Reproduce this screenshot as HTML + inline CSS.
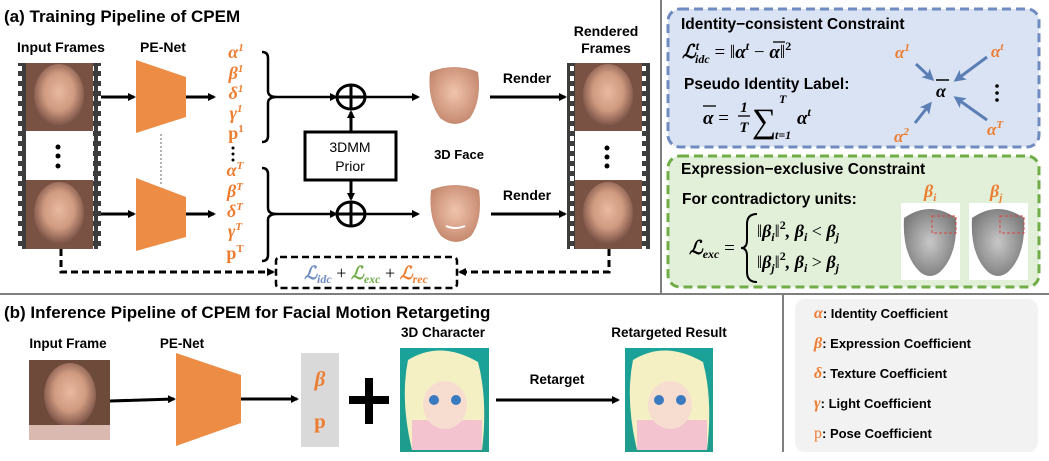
<!DOCTYPE html>
<html><head><meta charset="utf-8"><style>
html,body{margin:0;padding:0;background:#fff;}
svg{display:block;}
.t{font-family:"Liberation Sans",sans-serif;font-weight:bold;fill:#000;}
.m{font-family:"Liberation Serif",serif;font-style:italic;font-weight:bold;}
.o{fill:#ed7d31;}
</style></head><body>
<svg width="1049" height="461" viewBox="0 0 1049 461" xmlns="http://www.w3.org/2000/svg">
<defs>
<marker id="ah" markerWidth="8" markerHeight="8" refX="6" refY="4" orient="auto" markerUnits="userSpaceOnUse"><path d="M0,0 L8,4 L0,8 Z" fill="#000"/></marker>
<marker id="ab" markerWidth="12" markerHeight="12" refX="9" refY="6" orient="auto" markerUnits="userSpaceOnUse"><path d="M0,0 L12,6 L0,12 L3,6 Z" fill="#5b7fb5"/></marker>
<pattern id="holes" x="0" y="63" width="8" height="10" patternUnits="userSpaceOnUse"><rect width="8" height="10" fill="#3d3d3d"/><rect x="2" y="3" width="4" height="5" fill="#fff"/></pattern>
<radialGradient id="face" cx="50%" cy="45%" r="55%"><stop offset="0" stop-color="#e8b9a0"/><stop offset="0.55" stop-color="#cf9a80"/><stop offset="1" stop-color="#7a5246"/></radialGradient>
<radialGradient id="face3" cx="50%" cy="45%" r="55%"><stop offset="0" stop-color="#f0c4ac"/><stop offset="1" stop-color="#c68a70"/></radialGradient>
<radialGradient id="gface" cx="50%" cy="50%" r="55%"><stop offset="0" stop-color="#c8c8c8"/><stop offset="1" stop-color="#7d7d7d"/></radialGradient>
<linearGradient id="teal" x1="0" y1="0" x2="0" y2="1"><stop offset="0" stop-color="#1aa39a"/><stop offset="1" stop-color="#1f9c8c"/></linearGradient>
</defs>

<line x1="661" y1="0" x2="661" y2="294" stroke="#7f7f7f" stroke-width="2"/>
<line x1="0" y1="294" x2="1049" y2="294" stroke="#7f7f7f" stroke-width="2"/>
<line x1="783" y1="294" x2="783" y2="452" stroke="#7f7f7f" stroke-width="2"/>

<text class="t" x="4" y="22" font-size="17">(a) Training Pipeline of CPEM</text>
<text class="t" x="61" y="52" font-size="14" text-anchor="middle">Input Frames</text>
<text class="t" x="163" y="52" font-size="14" text-anchor="middle">PE-Net</text>
<text class="t" x="606" y="36" font-size="14" text-anchor="middle">Rendered</text>
<text class="t" x="606" y="53" font-size="14" text-anchor="middle">Frames</text>

<rect x="18" y="63" width="8" height="186" fill="url(#holes)"/>
<rect x="93" y="63" width="8" height="186" fill="url(#holes)"/>
<rect x="26" y="63" width="67" height="68" fill="#7a5244"/>
<ellipse cx="59" cy="95" rx="25" ry="31" fill="url(#face)"/>
<rect x="26" y="131" width="67" height="49" fill="#fff"/>
<circle cx="58" cy="147" r="2.5"/><circle cx="58" cy="156" r="2.5"/><circle cx="58" cy="166" r="2.5"/>
<rect x="26" y="180" width="67" height="69" fill="#7a5244"/>
<ellipse cx="59" cy="213" rx="25" ry="31" fill="url(#face)"/>

<rect x="567" y="63" width="8" height="186" fill="url(#holes)"/>
<rect x="642" y="63" width="8" height="186" fill="url(#holes)"/>
<rect x="575" y="63" width="67" height="68" fill="#7a5244"/>
<ellipse cx="608" cy="95" rx="25" ry="31" fill="url(#face)"/>
<rect x="575" y="131" width="67" height="49" fill="#fff"/>
<circle cx="607" cy="148" r="2.5"/><circle cx="607" cy="157" r="2.5"/><circle cx="607" cy="166" r="2.5"/>
<rect x="575" y="180" width="67" height="69" fill="#7a5244"/>
<ellipse cx="608" cy="213" rx="25" ry="31" fill="url(#face)"/>

<line x1="101" y1="97" x2="134" y2="97" stroke="#000" stroke-width="3" marker-end="url(#ah)"/>
<line x1="101" y1="214" x2="134" y2="214" stroke="#000" stroke-width="3" marker-end="url(#ah)"/>
<polygon points="136,60 186,77 186,117 136,133" fill="#ed8c45"/>
<polygon points="136,178 186,197 186,237 136,251" fill="#ed8c45"/>
<line x1="161" y1="134" x2="161" y2="184" stroke="#999" stroke-width="1.5" stroke-dasharray="2,2"/>
<line x1="186" y1="97" x2="214" y2="97" stroke="#000" stroke-width="3" marker-end="url(#ah)"/>
<line x1="186" y1="214" x2="214" y2="214" stroke="#000" stroke-width="3" marker-end="url(#ah)"/>

<g class="m o" font-size="18" text-anchor="middle">
<text x="236" y="58">α<tspan font-size="11" dy="-7">1</tspan></text>
<text x="236" y="79">β<tspan font-size="11" dy="-7">1</tspan></text>
<text x="236" y="99">δ<tspan font-size="11" dy="-7">1</tspan></text>
<text x="236" y="119">γ<tspan font-size="11" dy="-7">1</tspan></text>
<text x="236" y="139" font-style="normal">p<tspan font-size="11" dy="-7">1</tspan></text>
<text x="235" y="176">α<tspan font-size="11" dy="-7">T</tspan></text>
<text x="235" y="197">β<tspan font-size="11" dy="-7">T</tspan></text>
<text x="235" y="217">δ<tspan font-size="11" dy="-7">T</tspan></text>
<text x="235" y="237">γ<tspan font-size="11" dy="-7">T</tspan></text>
<text x="235" y="259" font-style="normal">p<tspan font-size="11" dy="-7">T</tspan></text>
</g>
<circle cx="233" cy="148" r="1.5"/><circle cx="233" cy="154" r="1.5"/><circle cx="233" cy="160" r="1.5"/>
<path d="M262,52 Q268,52 268,58 L268,91 Q268,97 277,97 Q268,97 268,103 L268,136 Q268,142 262,142" fill="none" stroke="#000" stroke-width="2.5"/>
<path d="M262,168 Q268,168 268,174 L268,208 Q268,214 277,214 Q268,214 268,220 L268,255 Q268,261 262,261" fill="none" stroke="#000" stroke-width="2.5"/>
<line x1="277" y1="97" x2="336" y2="97" stroke="#000" stroke-width="2.5" marker-end="url(#ah)"/>
<line x1="277" y1="214" x2="336" y2="214" stroke="#000" stroke-width="2.5" marker-end="url(#ah)"/>
<g fill="none" stroke="#000" stroke-width="3">
<ellipse cx="351" cy="97" rx="14" ry="12"/><line x1="337" y1="97" x2="365" y2="97"/><line x1="351" y1="85" x2="351" y2="109"/>
<ellipse cx="351" cy="214" rx="14" ry="12"/><line x1="337" y1="214" x2="365" y2="214"/><line x1="351" y1="202" x2="351" y2="226"/>
</g>
<rect x="305" y="132" width="91" height="48" fill="#fff" stroke="#000" stroke-width="3"/>
<text class="t" x="350" y="152" font-size="14" text-anchor="middle" style="font-weight:normal">3DMM</text>
<text class="t" x="350" y="171" font-size="14" text-anchor="middle" style="font-weight:normal">Prior</text>
<line x1="351" y1="132" x2="351" y2="112" stroke="#000" stroke-width="3" marker-end="url(#ah)"/>
<line x1="351" y1="180" x2="351" y2="199" stroke="#000" stroke-width="3" marker-end="url(#ah)"/>
<line x1="365" y1="97" x2="418" y2="97" stroke="#000" stroke-width="2.5" marker-end="url(#ah)"/>
<line x1="365" y1="214" x2="418" y2="214" stroke="#000" stroke-width="2.5" marker-end="url(#ah)"/>
<path d="M430,72 Q454,62 478,72 Q482,100 470,118 Q455,130 440,118 Q427,100 430,72Z" fill="url(#face3)"/>
<path d="M431,190 Q455,180 479,190 Q483,220 471,236 Q456,248 441,236 Q428,220 431,190Z" fill="url(#face3)"/>
<path d="M446,226 Q455,230 465,226" stroke="#fff" stroke-width="2" fill="none"/>
<text class="t" x="459" y="159" font-size="13" text-anchor="middle">3D Face</text>
<text class="t" x="527" y="83" font-size="14" text-anchor="middle">Render</text>
<text class="t" x="527" y="200" font-size="14" text-anchor="middle">Render</text>
<line x1="490" y1="97" x2="565" y2="97" stroke="#000" stroke-width="3" marker-end="url(#ah)"/>
<line x1="491" y1="214" x2="565" y2="214" stroke="#000" stroke-width="3" marker-end="url(#ah)"/>
<polyline points="61,249 61,272 273,272" fill="none" stroke="#000" stroke-width="3" stroke-dasharray="7,4" marker-end="url(#ah)"/>
<polyline points="609,249 609,272 460,272" fill="none" stroke="#000" stroke-width="3" stroke-dasharray="7,4" marker-end="url(#ah)"/>
<rect x="276" y="257" width="181" height="31" rx="4" fill="#fff" stroke="#000" stroke-width="2.5" stroke-dasharray="7,4"/>
<text class="m" x="366" y="279" font-size="18" text-anchor="middle"><tspan fill="#6f8bbf">ℒ<tspan font-size="12" dy="4">idc</tspan></tspan><tspan dy="-4" font-style="normal" font-weight="normal"> + </tspan><tspan fill="#70ad47">ℒ<tspan font-size="12" dy="4">exc</tspan></tspan><tspan dy="-4" font-style="normal" font-weight="normal"> + </tspan><tspan fill="#ed7d31">ℒ<tspan font-size="12" dy="4">rec</tspan></tspan></text>

<rect x="668" y="9" width="371" height="138" rx="12" fill="#dae3f3" stroke="#6f8bbf" stroke-width="3" stroke-dasharray="9,5"/>
<text class="t" x="681" y="29" font-size="15.5">Identity−consistent Constraint</text>
<text class="m" x="682" y="58" font-size="19">ℒ<tspan font-size="12" dy="-8">t</tspan><tspan font-size="12" dx="-4" dy="13">idc</tspan><tspan dy="-5" font-style="normal" font-weight="normal"> = ‖</tspan>α<tspan font-size="12" dy="-8">t</tspan><tspan dy="8" font-style="normal" font-weight="normal"> − </tspan>α<tspan font-style="normal" font-weight="normal">‖</tspan><tspan font-size="12" dy="-8" font-style="normal">2</tspan></text>
<line x1="773" y1="42" x2="785" y2="42" stroke="#000" stroke-width="1.3"/>
<text class="t" x="684" y="89" font-size="15.5">Pseudo Identity Label:</text>
<text class="m" x="703" y="124" font-size="19">α<tspan font-style="normal" font-weight="normal"> = </tspan></text>
<line x1="703" y1="106" x2="716" y2="106" stroke="#000" stroke-width="1.3"/>
<text class="m" x="744" y="112" font-size="15" text-anchor="middle" font-style="normal">1</text>
<line x1="738" y1="116" x2="750" y2="116" stroke="#000" stroke-width="1.3"/>
<text class="m" x="744" y="132" font-size="15" text-anchor="middle">T</text>
<text x="752" y="132" font-size="34" font-family="Liberation Serif, serif">∑</text>
<text class="m" x="779" y="103" font-size="12">T</text>
<text class="m" x="775" y="139" font-size="12">t=1</text>
<text class="m" x="797" y="124" font-size="19">α<tspan font-size="12" dy="-8">t</tspan></text>
<text class="m o" x="895" y="58" font-size="17">α<tspan font-size="11" dy="-7">1</tspan></text>
<text class="m o" x="991" y="57" font-size="17">α<tspan font-size="11" dy="-7">t</tspan></text>
<text class="m o" x="894" y="142" font-size="17">α<tspan font-size="11" dy="-7">2</tspan></text>
<text class="m o" x="987" y="135" font-size="17">α<tspan font-size="11" dy="-7">T</tspan></text>
<text class="m" x="936" y="97" font-size="18">α</text>
<line x1="936" y1="80" x2="949" y2="80" stroke="#000" stroke-width="1.5"/>
<circle cx="997" cy="86" r="1.8"/><circle cx="997" cy="93" r="1.8"/><circle cx="997" cy="100" r="1.8"/>
<g stroke="#5b7fb5" stroke-width="3">
<line x1="916" y1="64" x2="932" y2="79" marker-end="url(#ab)"/>
<line x1="987" y1="57" x2="956" y2="80" marker-end="url(#ab)"/>
<line x1="915" y1="123" x2="930" y2="104" marker-end="url(#ab)"/>
<line x1="987" y1="120" x2="956" y2="98" marker-end="url(#ab)"/>
</g>

<rect x="668" y="156" width="371" height="131" rx="12" fill="#e2efd9" stroke="#70ad47" stroke-width="3" stroke-dasharray="9,5"/>
<text class="t" x="681" y="174" font-size="15.5">Expression−exclusive Constraint</text>
<text class="t" x="682" y="204" font-size="15.5">For contradictory units:</text>
<text class="m" x="689" y="254" font-size="19">ℒ<tspan font-size="12" dy="4">exc</tspan><tspan dy="-4" font-style="normal" font-weight="normal"> =</tspan></text>
<path d="M757,214 Q747,214 747,224 L747,240 Q747,248 741,248 Q747,248 747,256 L747,272 Q747,282 757,282" fill="none" stroke="#000" stroke-width="2"/>
<text class="m" x="757" y="237" font-size="18"><tspan font-style="normal" font-weight="normal">‖</tspan>β<tspan font-size="12" dy="4">i</tspan><tspan dy="-4" font-style="normal" font-weight="normal">‖</tspan><tspan font-size="12" dy="-8" font-style="normal">2</tspan><tspan dy="8">, β</tspan><tspan font-size="12" dy="4">i</tspan><tspan dy="-4" font-style="normal" font-weight="normal"> &lt; </tspan>β<tspan font-size="12" dy="4">j</tspan></text>
<text class="m" x="757" y="268" font-size="18"><tspan font-style="normal" font-weight="normal">‖</tspan>β<tspan font-size="12" dy="4">j</tspan><tspan dy="-4" font-style="normal" font-weight="normal">‖</tspan><tspan font-size="12" dy="-8" font-style="normal">2</tspan><tspan dy="8">, β</tspan><tspan font-size="12" dy="4">i</tspan><tspan dy="-4" font-style="normal" font-weight="normal"> &gt; </tspan>β<tspan font-size="12" dy="4">j</tspan></text>
<text class="m o" x="924" y="197" font-size="18">β<tspan font-size="11" dy="4">i</tspan></text>
<text class="m o" x="990" y="197" font-size="18">β<tspan font-size="11" dy="4">j</tspan></text>
<rect x="901" y="203" width="59" height="77" fill="#fff"/>
<rect x="969" y="203" width="59" height="77" fill="#fff"/>
<path d="M904,218 Q930,200 956,218 Q958,255 940,272 Q930,280 920,272 Q902,255 904,218Z" fill="url(#gface)"/>
<path d="M972,218 Q998,200 1024,218 Q1026,255 1008,272 Q998,280 988,272 Q970,255 972,218Z" fill="url(#gface)"/>
<rect x="932" y="216" width="24" height="17" fill="none" stroke="#d44" stroke-width="1" stroke-dasharray="3,2"/>
<rect x="1000" y="216" width="24" height="17" fill="none" stroke="#d44" stroke-width="1" stroke-dasharray="3,2"/>

<rect x="795" y="299" width="243" height="153" rx="10" fill="#f2f2f2"/>
<g font-size="13">
<text class="t" x="814" y="318"><tspan class="m o" font-size="16" font-weight="normal">α</tspan>: Identity Coefficient</text>
<text class="t" x="814" y="348"><tspan class="m o" font-size="16" font-weight="normal">β</tspan>: Expression Coefficient</text>
<text class="t" x="814" y="378"><tspan class="m o" font-size="16" font-weight="normal">δ</tspan>: Texture Coefficient</text>
<text class="t" x="814" y="408"><tspan class="m o" font-size="16" font-weight="normal">γ</tspan>: Light Coefficient</text>
<text class="t" x="814" y="438"><tspan fill="#ed7d31" font-family="Liberation Serif, serif" font-size="16" font-weight="normal">p</tspan>: Pose Coefficient</text>
</g>

<text class="t" x="4" y="318" font-size="17">(b) Inference Pipeline of CPEM for Facial Motion Retargeting</text>
<text class="t" x="68" y="348" font-size="13.5" text-anchor="middle">Input Frame</text>
<text class="t" x="182" y="348" font-size="13.5" text-anchor="middle">PE-Net</text>
<text class="t" x="443" y="337" font-size="13.5" text-anchor="middle">3D Character</text>
<text class="t" x="669" y="337" font-size="13.5" text-anchor="middle">Retargeted Result</text>
<rect x="29" y="360" width="81" height="80" fill="#6e4a3a"/>
<ellipse cx="70" cy="395" rx="26" ry="32" fill="url(#face)"/>
<rect x="29" y="425" width="81" height="15" fill="#d9b9b0"/>
<line x1="110" y1="401" x2="174" y2="399" stroke="#000" stroke-width="3" marker-end="url(#ah)"/>
<polygon points="176,353 241,375 241,423 176,446" fill="#ed8c45"/>
<line x1="241" y1="399" x2="297" y2="399" stroke="#000" stroke-width="3" marker-end="url(#ah)"/>
<rect x="301" y="353" width="38" height="94" fill="#d9d9d9"/>
<text class="m o" x="320" y="386" font-size="21" text-anchor="middle">β</text>
<text x="320" y="428" font-size="21" text-anchor="middle" fill="#ed7d31" font-family="Liberation Serif, serif" font-weight="bold">p</text>
<rect x="349" y="396" width="40" height="8" fill="#000"/>
<rect x="365" y="378" width="8" height="46" fill="#000"/>
<rect x="400" y="348" width="89" height="104" fill="url(#teal)"/>
<path d="M408,360 Q440,340 478,362 Q488,400 482,450 L412,450 Q400,400 408,360Z" fill="#f4f0c4"/>
<path d="M412,420 L482,420 L482,450 L412,450Z" fill="#f3c3d0"/>
<ellipse cx="445" cy="405" rx="22" ry="24" fill="#f6ddd0"/>
<circle cx="434" cy="400" r="5" fill="#3a7ac0"/><circle cx="456" cy="400" r="5" fill="#3a7ac0"/>
<rect x="625" y="348" width="88" height="104" fill="url(#teal)"/>
<path d="M633,360 Q665,340 703,362 Q713,400 707,450 L637,450 Q625,400 633,360Z" fill="#f4f0c4"/>
<path d="M637,420 L707,420 L707,450 L637,450Z" fill="#f3c3d0"/>
<ellipse cx="670" cy="405" rx="22" ry="24" fill="#f6ddd0"/>
<circle cx="659" cy="400" r="5" fill="#3a7ac0"/><circle cx="681" cy="400" r="5" fill="#3a7ac0"/>
<text class="t" x="557" y="384" font-size="13.5" text-anchor="middle">Retarget</text>
<line x1="496" y1="400" x2="618" y2="400" stroke="#000" stroke-width="3" marker-end="url(#ah)"/>
</svg>
</body></html>
